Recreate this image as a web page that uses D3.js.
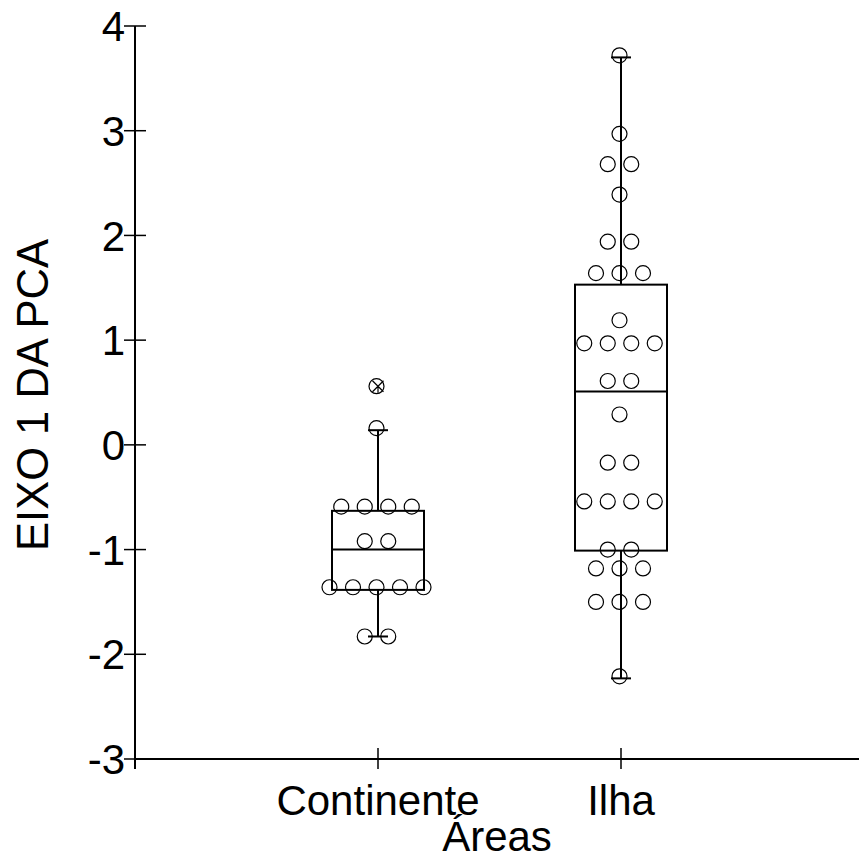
<!DOCTYPE html>
<html>
<head>
<meta charset="utf-8">
<script src="https://cdn.jsdelivr.net/npm/d3@7"></script>
<style>
  html, body { margin: 0; padding: 0; background: #fff; }
  svg { display: block; }
  text { font-family: "Liberation Sans", Arial, sans-serif; fill: #000; }
</style>
</head>
<body>
<svg id="chart" width="859" height="862"></svg>
<script>
// Groups on the x axis
const categories = ["Continente", "Ilha"];

// Observed scores on the first PCA axis, per group
const continenteValues = [0.56, 0.16,
  -0.59, -0.59, -0.59, -0.59,
  -0.92, -0.92,
  -1.36, -1.36, -1.36, -1.36, -1.36,
  -1.83, -1.83];
const ilhaValues = [3.72, 2.97, 2.68, 2.68, 2.39, 1.94, 1.94,
  1.64, 1.64, 1.64, 1.19,
  0.97, 0.97, 0.97, 0.97,
  0.61, 0.61, 0.29,
  -0.17, -0.17,
  -0.54, -0.54, -0.54, -0.54,
  -1.00, -1.00,
  -1.18, -1.18, -1.18,
  -1.50, -1.50, -1.50,
  -2.21];

// Box summaries: [lower whisker, Q1, median, Q3, upper whisker]
const continenteBox = [-1.83, -1.385, -1.00, -0.63, 0.14];
const ilhaBox = [-2.23, -1.01, 0.51, 1.53, 3.70];

// Values flagged as outliers
const continenteOutliers = [0.56];
const ilhaOutliers = [];

const yTicks = [-3, -2, -1, 0, 1, 2, 3, 4];

const groups = [
  { name: categories[0], values: continenteValues, box: continenteBox, outliers: continenteOutliers },
  { name: categories[1], values: ilhaValues, box: ilhaBox, outliers: ilhaOutliers }
];

const svg = d3.select("#chart");
const axisLeft = 135, axisBottom = 759, axisTop = 26, axisRight = 859;

const y = d3.scaleLinear().domain([-3, 4]).range([axisBottom, axisTop]);
const x = d3.scalePoint().domain(categories).range([axisLeft, 864]).padding(1);

const boxHalf = 46, capL = 10, capR = 10, dotR = 7.5, dotStep = 23.5;

// Axes lines
svg.append("line").attr("x1", axisLeft).attr("x2", axisLeft)
  .attr("y1", axisTop).attr("y2", axisBottom + 10)
  .attr("stroke", "#000").attr("stroke-width", 2);
svg.append("line").attr("x1", axisLeft).attr("x2", axisRight)
  .attr("y1", axisBottom).attr("y2", axisBottom)
  .attr("stroke", "#000").attr("stroke-width", 2);

// Y ticks and labels
const yt = svg.append("g");
yt.selectAll("line").data(yTicks).join("line")
  .attr("x1", axisLeft - 11).attr("x2", axisLeft + 11)
  .attr("y1", d => y(d)).attr("y2", d => y(d))
  .attr("stroke", "#000").attr("stroke-width", 1.5);
yt.selectAll("text").data(yTicks).join("text")
  .attr("x", 125).attr("y", d => y(d)).attr("dy", "0.36em")
  .attr("text-anchor", "end").attr("font-size", 42)
  .text(d => d);

// X ticks and labels
const xt = svg.append("g");
xt.selectAll("line").data(categories).join("line")
  .attr("x1", d => x(d)).attr("x2", d => x(d))
  .attr("y1", axisBottom - 11).attr("y2", axisBottom + 10)
  .attr("stroke", "#000").attr("stroke-width", 1.5);
xt.selectAll("text").data(categories).join("text")
  .attr("x", d => x(d)).attr("y", 815)
  .attr("text-anchor", "middle").attr("font-size", 42)
  .text(d => d);

// Axis titles
svg.append("text").attr("x", (axisLeft + axisRight) / 2).attr("y", 851)
  .attr("text-anchor", "middle").attr("font-size", 42).text("Áreas");
svg.append("text")
  .attr("transform", "translate(48,395) rotate(-90)")
  .attr("text-anchor", "middle").attr("font-size", 43.5).text("EIXO 1 DA PCA");

// Boxes and whiskers
groups.forEach(g => {
  const cx = x(g.name);
  const [wLo, q1, med, q3, wHi] = g.box;
  const gg = svg.append("g").attr("stroke", "#000").attr("fill", "none").attr("stroke-width", 2);
  gg.append("line").attr("x1", cx).attr("x2", cx).attr("y1", y(wHi)).attr("y2", y(q3));
  gg.append("line").attr("x1", cx).attr("x2", cx).attr("y1", y(q1)).attr("y2", y(wLo));
  gg.append("line").attr("x1", cx - capL).attr("x2", cx + capR).attr("y1", y(wHi)).attr("y2", y(wHi));
  gg.append("line").attr("x1", cx - capL).attr("x2", cx + capR).attr("y1", y(wLo)).attr("y2", y(wLo));
  gg.append("rect").attr("x", cx - boxHalf).attr("width", boxHalf * 2)
    .attr("y", y(q3)).attr("height", y(q1) - y(q3));
  gg.append("line").attr("x1", cx - boxHalf).attr("x2", cx + boxHalf)
    .attr("y1", y(med)).attr("y2", y(med));
});

// Dots: tied values are spread side by side
groups.forEach(g => {
  const cx = x(g.name) - 1.5;
  const counts = d3.rollups(g.values, v => v.length, d => d);
  const pts = [];
  counts.forEach(([v, n]) => {
    for (let i = 0; i < n; i++) pts.push({ v, dx: (i - (n - 1) / 2) * dotStep });
  });
  const dg = svg.append("g");
  dg.selectAll("circle").data(pts).join("circle")
    .attr("cx", d => cx + d.dx).attr("cy", d => y(d.v)).attr("r", dotR)
    .attr("fill", "none").attr("stroke", "#000").attr("stroke-width", 1.2);
  // Outlier marker: cross inside the circle
  g.outliers.forEach(v => {
    const px = x(g.name), py = y(v), k = 5.5;
    dg.append("path")
      .attr("d", `M${px - k},${py - k}L${px + k},${py + k}M${px + k},${py - k}L${px - k},${py + k}M${px},${py - 1}L${px},${py + k + 1}`)
      .attr("stroke", "#000").attr("stroke-width", 1.2).attr("fill", "none");
  });
});
</script>
</body>
</html>
